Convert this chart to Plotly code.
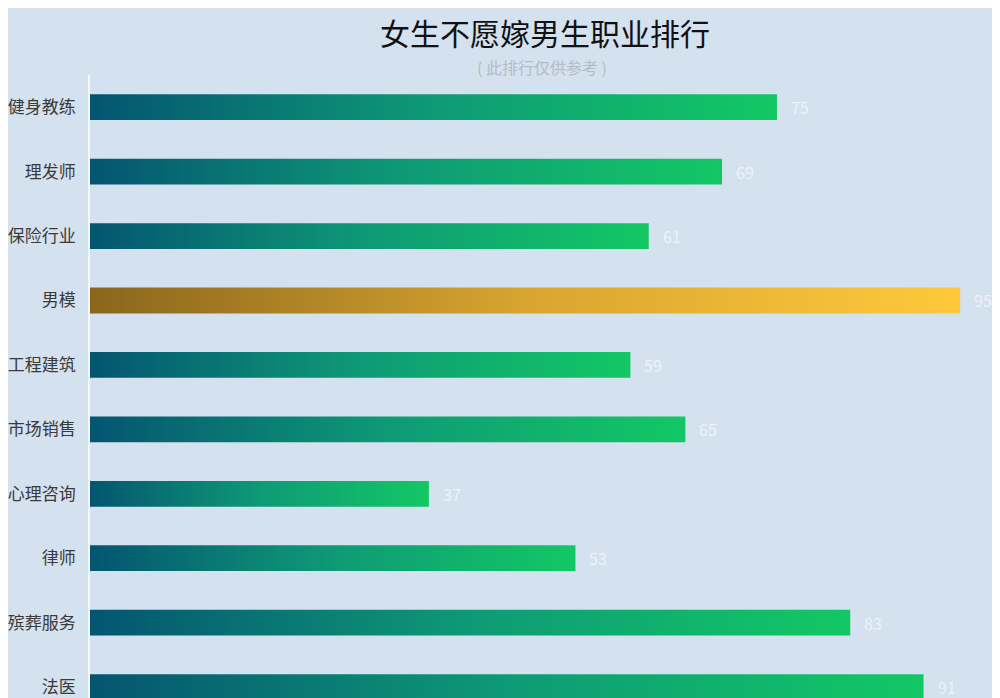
import plotly.graph_objects as go

# data
jobs = ["健身教练", "理发师", "保险行业", "男模", "工程建筑",
        "市场销售", "心理咨询", "律师", "殡葬服务", "法医"]
scores = [75, 69, 61, 95, 59, 65, 37, 53, 83, 91]
highlight = "男模"

green_scale = [[0, "#045570"], [0.5, "#0e9a76"], [1, "#13c864"]]
gold_scale = [[0, "#8a661c"], [0.5, "#d8a530"], [1, "#ffc93b"]]
half = 0.2

fig = go.Figure()
for i, (job, v) in enumerate(zip(jobs, scores)):
    scale = gold_scale if job == highlight else green_scale
    fig.add_trace(go.Scatter(
        x=[0, v, v, 0, 0],
        y=[i - half, i - half, i + half, i + half, i - half],
        mode="lines", fill="toself",
        line=dict(width=0),
        fillgradient=dict(type="horizontal", colorscale=scale, start=0, stop=v),
        hoverinfo="skip", showlegend=False))
    fig.add_annotation(x=v, y=i, text=str(v), showarrow=False,
                       xanchor="left", xshift=12,
                       font=dict(size=16, color="#eef3f8"))

# page has an 8px body margin, so the figure is 992x690 and shifted
fig.add_annotation(x=0.5, y=(690 - 24) / 623, xref="paper", yref="paper",
                   text="女生不愿嫁男生职业排行", showarrow=False, yanchor="middle",
                   font=dict(size=30, color="#111111", family="Noto Sans CJK SC"))
fig.add_annotation(x=0.497, y=(690 - 59) / 623, xref="paper", yref="paper",
                   text="( 此排行仅供参考 )", showarrow=False, yanchor="middle",
                   font=dict(size=16, color="#b3bcc6", family="Noto Sans CJK SC"))

fig.update_layout(
    width=992, height=690,
    margin=dict(l=78, r=0, t=67, b=0),
    paper_bgcolor="#d4e1ee", plot_bgcolor="#d4e1ee",
    font=dict(family="Noto Sans CJK SC"),
    xaxis=dict(range=[0, 99.35], showgrid=False, zeroline=False,
               showticklabels=False, fixedrange=True),
    yaxis=dict(range=[9.17, -0.5], tickvals=list(range(len(jobs))), ticktext=jobs,
               showgrid=False, zeroline=False, showline=True, linecolor="#f4f8fb",
               linewidth=1.5, ticks="", ticklabelstandoff=9,
               tickfont=dict(size=17, color="#3a3a3a")),
)

fig.write_html("out.html")
